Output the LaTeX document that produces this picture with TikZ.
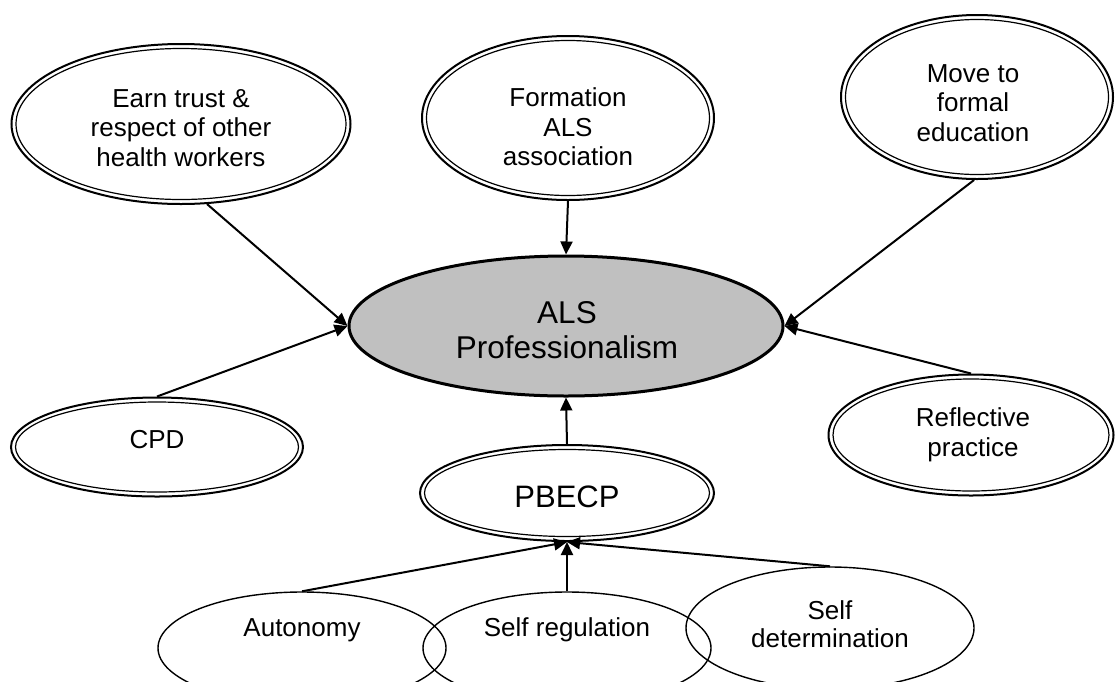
\documentclass[tikz,border=0pt]{standalone}
\usepackage{fontspec}
\setmainfont{Liberation Sans}
\usetikzlibrary{shapes.geometric,arrows.meta}
\newcommand\dblellipse[4]{%
  \node[outerell, minimum width={#3*1pt}, minimum height={#4*1pt}] (#1) at #2 {};
  \node[innerell, minimum width={(#3-9)*1pt}, minimum height={(#4-9)*1pt}] (#1in) at #2 {};}
\begin{document}
\begin{tikzpicture}[x=1pt,y=-1pt,
  outerell/.style={ellipse, draw, line width=2pt, inner sep=0pt},
  innerell/.style={ellipse, draw, line width=1.2pt, inner sep=0pt},
  sgl/.style={ellipse, draw, line width=1.4pt, inner sep=0pt},
  lbl/.style={align=center, font=\fontsize{26}{29.5}\selectfont, inner sep=0pt},
  conn/.style={line width=2pt, -{Triangle[length=13pt,width=12pt]}},
]
\fill[white] (0,0) rectangle (1116,681);
\useasboundingbox (0,0) rectangle (1116,681);

% top row
\dblellipse{earn}{(181,124)}{339}{160}
\node[lbl] (earnt) at (181,128) {Earn trust \&\\respect of other\\health workers};

\dblellipse{form}{(568,118)}{292}{164}
\node[lbl] (formt) at (568,127) {Formation\\ALS\\association};

\dblellipse{move}{(977,97)}{272}{164}
\node[lbl] (movet) at (973,103) {Move to\\formal\\education};

% centre
\node[ellipse, draw, line width=3pt, fill={rgb,255:red,192;green,192;blue,192}, inner sep=0pt,
      minimum width=434pt, minimum height=140pt] (als) at (566,326) {};
\node[lbl, font=\fontsize{31.5}{35}\selectfont] (alst) at (567,330) {ALS\\Professionalism};

% middle row
\dblellipse{cpd}{(157,447)}{292}{99}
\node[lbl] (cpdt) at (157,440) {CPD};

\dblellipse{refl}{(971,435)}{285}{121}
\node[lbl] (reflt) at (973,435) {Reflective\\practice};

\dblellipse{pbecp}{(567,493)}{294}{96}
\node[lbl, font=\fontsize{31}{35}\selectfont] (pbecpt) at (567,497) {PBECP};

% bottom row
\node[sgl, minimum width=288pt, minimum height=112pt] (auto) at (302,648) {};
\node[lbl] (autot) at (302,630) {Autonomy};

\node[sgl, minimum width=288pt, minimum height=112pt] (selfreg) at (567,648) {};
\node[lbl] (selfregt) at (567,630) {Self regulation};

\node[sgl, minimum width=288pt, minimum height=122pt] (selfdet) at (830,628) {};
\node[lbl, font=\fontsize{26}{28}\selectfont] (selfdett) at (830,624) {Self\\determination};

% connectors
\draw[conn] (earn.-72) -- (als.west);
\draw[conn] (cpd.north) -- (als.west);
\draw[conn] (form.south) -- (als.north);
\draw[conn] (move.-92) -- (als.east);
\draw[conn] (refl.north) -- (als.east);
\draw[conn] (pbecp.north) -- (als.south);
\draw[conn] (auto.north) -- (pbecp.south);
\draw[conn] (selfreg.north) -- (pbecp.south);
\draw[conn] (selfdet.north) -- (pbecp.south);
\end{tikzpicture}
\end{document}
